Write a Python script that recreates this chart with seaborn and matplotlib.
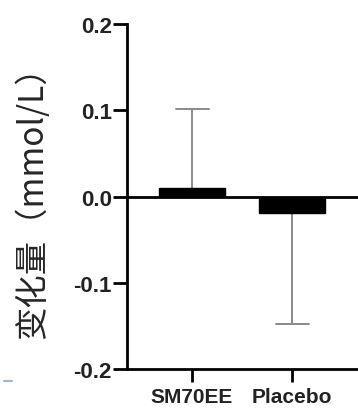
import matplotlib
matplotlib.use("Agg")
import matplotlib.pyplot as plt
import seaborn as sns
import pandas as pd
from matplotlib.lines import Line2D

groups = ["SM70EE", "Placebo"]
means = [0.010, -0.019]
err_ends = [0.101, -0.148]
y_ticks = [-0.2, -0.1, 0.0, 0.1, 0.2]
y_tick_labels = ["-0.2", "-0.1", "0.0", "0.1", "0.2"]
ylabel = "变化量（mmol/L）"

sns.set_theme(style="ticks")
plt.rcParams["font.family"] = ["Liberation Sans", "DejaVu Sans"]

df = pd.DataFrame({"group": groups, "mean": means})

fig = plt.figure(figsize=(3.58, 4.10), dpi=100)
ax = fig.add_axes([127/358, 1-370/410, 1-127/358, 345/410])

sns.barplot(data=df, x="group", y="mean", color="black", width=0.66,
            saturation=1, ax=ax, errorbar=None, edgecolor="black", zorder=2)

cap_half = 0.165
for i, (m, e) in enumerate(zip(means, err_ends)):
    ax.plot([i, i], [m, e], color="#8a8a8a", lw=1.4, zorder=1)
    ax.plot([i - cap_half, i + cap_half], [e, e], color="#8a8a8a", lw=1.4, zorder=1)

ax.axhline(0, color="black", lw=2, zorder=3)
ax.set_xlim(-0.65, 1.66)
ax.set_ylim(-0.2, 0.2)
ax.set_yticks(y_ticks)
ax.set_yticklabels(y_tick_labels, fontsize=16, fontweight="bold", color="#222222")
ax.set_xticks(range(len(groups)))
ax.set_xticklabels(groups, fontsize=15, fontweight="bold", color="#222222")
ax.set_xlabel("")
ax.set_ylabel("")
for s in ["top", "right"]:
    ax.spines[s].set_visible(False)
for s in ["left", "bottom"]:
    ax.spines[s].set_linewidth(2)
    ax.spines[s].set_color("black")
ax.tick_params(axis="both", width=2, length=10, color="black")
ax.tick_params(axis="y", pad=1)
ax.tick_params(axis="x", length=9, pad=4)

fig.text(0.092, 1-194/410, ylabel, rotation=90, ha="center", va="center",
         fontsize=24, family=["Noto Sans CJK SC", "DejaVu Sans"])

fig.add_artist(Line2D([4/358, 12/358], [1-382/410, 1-382/410],
                      color="#9fb6d0", lw=1.5))

fig.savefig("out.png", dpi=100)
